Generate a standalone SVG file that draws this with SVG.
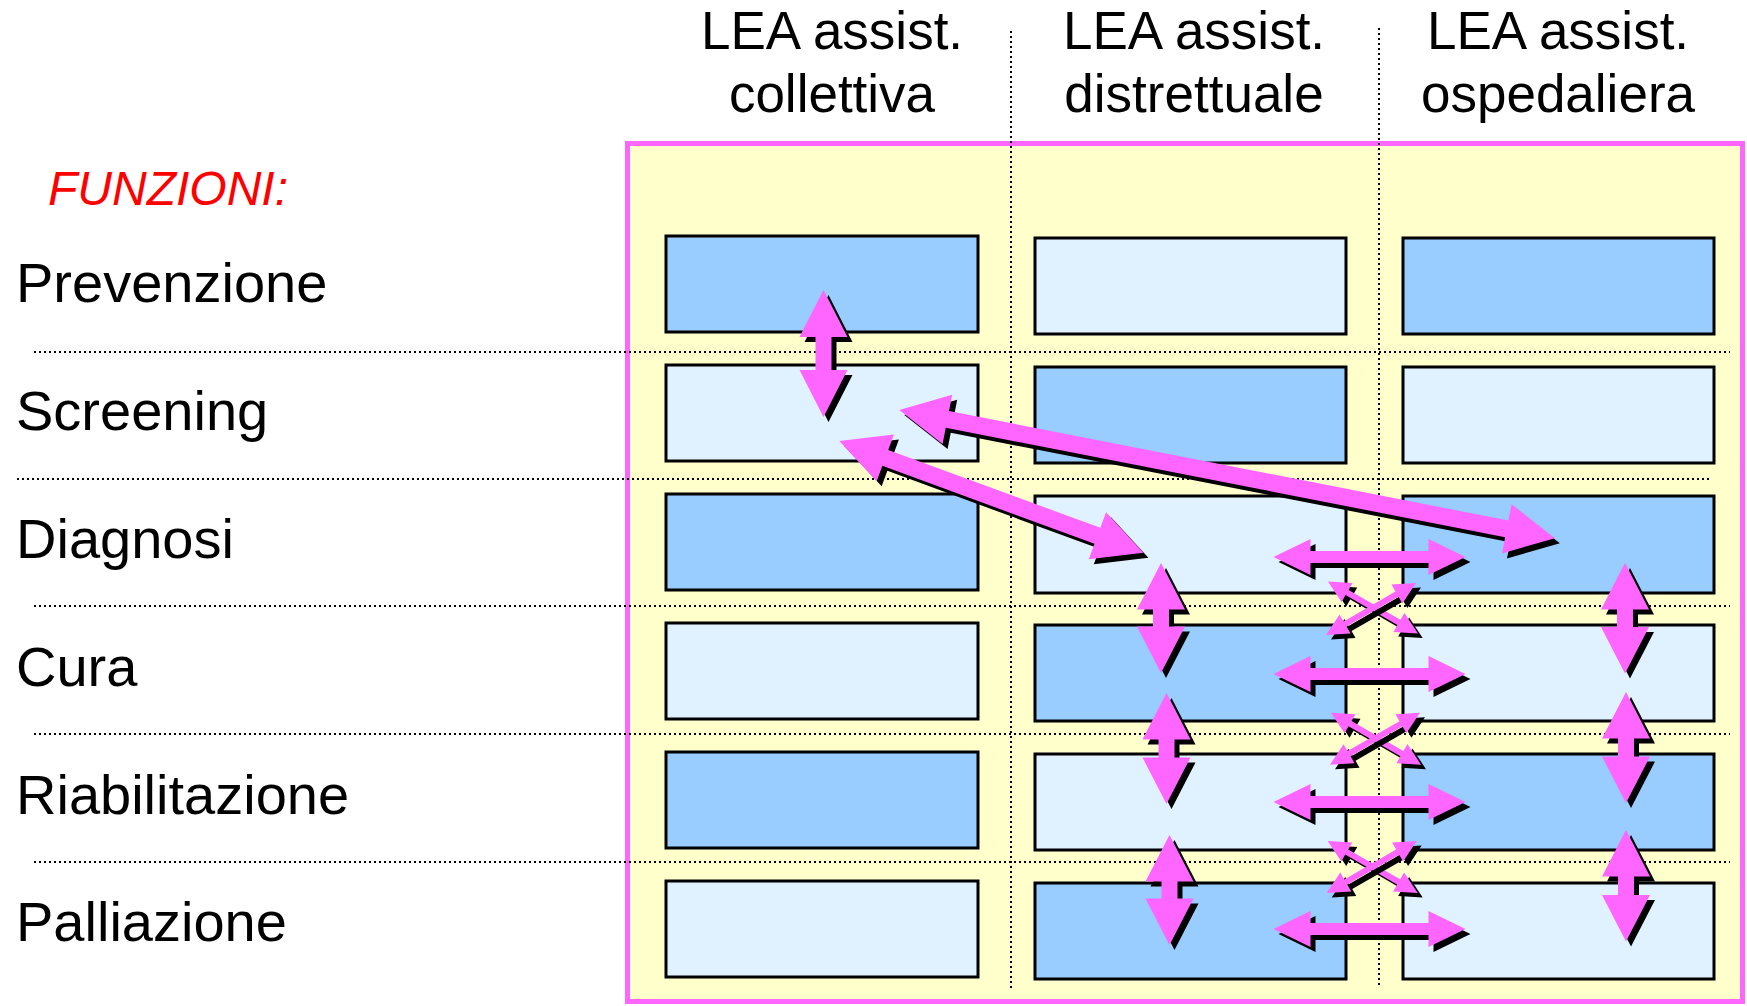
<svg xmlns="http://www.w3.org/2000/svg" xmlns:xlink="http://www.w3.org/1999/xlink" width="1747" height="1006" viewBox="0 0 1747 1006">
<style>
.hdr{font-family:"Liberation Sans",Arial,sans-serif;font-size:53px;fill:#000;text-anchor:middle}
.row{font-family:"Liberation Sans",Arial,sans-serif;font-size:56px;fill:#000}
.fun{font-family:"Liberation Sans",Arial,sans-serif;font-size:48px;font-style:italic;fill:#FF0000}
.dot{stroke:#000;stroke-width:2;stroke-dasharray:2 3;fill:none}
.dk{fill:#99CCFF;stroke:#000;stroke-width:3}
.lt{fill:#E0F2FF;stroke:#000;stroke-width:3}
.ar{fill:#FF66FF}
.sh{fill:#000}
</style>
<defs>
<path id="a1" transform="translate(823.5,290) rotate(90)" d="M0,0 L47,-24 L47,-8 L80,-8 L80,-24 L127,0 L80,24 L80,8 L47,8 L47,24 Z"/>
<path id="a2" transform="translate(899.3,410) rotate(11.07)" d="M0,0 L49,-25 L49,-8.5 L619,-8.5 L619,-25 L668,0 L619,25 L619,8.5 L49,8.5 L49,25 Z"/>
<path id="a3" transform="translate(839.3,441) rotate(20.17)" d="M0,0 L49,-25 L49,-8.5 L275,-8.5 L275,-25 L324,0 L275,25 L275,8.5 L49,8.5 L49,25 Z"/>
<path id="v1" transform="translate(1161,563) rotate(90)" d="M0,0 L46.5,-24 L46.5,-8 L63.5,-8 L63.5,-24 L110,0 L63.5,24 L63.5,8 L46.5,8 L46.5,24 Z"/>
<path id="v2" transform="translate(1166.5,693) rotate(90)" d="M0,0 L46.5,-24 L46.5,-8 L64.5,-8 L64.5,-24 L111,0 L64.5,24 L64.5,8 L46.5,8 L46.5,24 Z"/>
<path id="v3" transform="translate(1169.5,835) rotate(90)" d="M0,0 L46.5,-24 L46.5,-8 L63.5,-8 L63.5,-24 L110,0 L63.5,24 L63.5,8 L46.5,8 L46.5,24 Z"/>
<path id="v4" transform="translate(1625,563) rotate(90)" d="M0,0 L46.5,-24 L46.5,-8 L64,-8 L64,-24 L110.5,0 L64,24 L64,8 L46.5,8 L46.5,24 Z"/>
<path id="v5" transform="translate(1626,692) rotate(90)" d="M0,0 L46.5,-24 L46.5,-8 L64.5,-8 L64.5,-24 L111,0 L64.5,24 L64.5,8 L46.5,8 L46.5,24 Z"/>
<path id="v6" transform="translate(1626,830) rotate(90)" d="M0,0 L46.5,-24 L46.5,-8 L65,-8 L65,-24 L111.5,0 L65,24 L65,8 L46.5,8 L46.5,24 Z"/>
<path id="hz" d="M0,0 L37,-18 L37,-6 L155,-6 L155,-18 L192,0 L155,18 L155,6 L37,6 L37,18 Z"/>
<path id="xa" d="M0,0 L22,-11 L22,-3 L81.9,-3 L81.9,-11 L103.9,0 L81.9,11 L81.9,3 L22,3 L22,11 Z"/>
</defs>

<rect x="627.5" y="143.5" width="1115" height="858" fill="#FFFFCC" stroke="#FF66FF" stroke-width="5"/>

<g id="gridlines">
<line class="dot" x1="34" y1="352" x2="1730" y2="352"/>
<line class="dot" x1="17" y1="479" x2="1711" y2="479"/>
<line class="dot" x1="34" y1="606" x2="1730" y2="606"/>
<line class="dot" x1="34" y1="734" x2="1730" y2="734"/>
<line class="dot" x1="34" y1="862" x2="1730" y2="862"/>
<line class="dot" x1="1011" y1="31" x2="1011" y2="989"/>
<line class="dot" x1="1379" y1="28" x2="1379" y2="987"/>
</g>

<g id="headers">
<text class="hdr" x="832" y="49">LEA assist.</text>
<text class="hdr" x="832" y="112">collettiva</text>
<text class="hdr" x="1194" y="49">LEA assist.</text>
<text class="hdr" x="1194" y="112">distrettuale</text>
<text class="hdr" x="1558" y="49">LEA assist.</text>
<text class="hdr" x="1558" y="112">ospedaliera</text>
</g>

<g id="labels">
<text class="fun" x="48" y="205">FUNZIONI:</text>
<text class="row" x="16" y="302">Prevenzione</text>
<text class="row" x="16" y="430">Screening</text>
<text class="row" x="16" y="558">Diagnosi</text>
<text class="row" x="16" y="686">Cura</text>
<text class="row" x="16" y="814">Riabilitazione</text>
<text class="row" x="16" y="941">Palliazione</text>
</g>

<g id="col1">
<g id="c1-prevenzione"><rect class="dk" x="666" y="236" width="312" height="96"/></g>
<g id="c1-screening"><rect class="lt" x="666" y="365" width="312" height="96"/></g>
<g id="c1-diagnosi"><rect class="dk" x="666" y="494" width="312" height="96"/></g>
<g id="c1-cura"><rect class="lt" x="666" y="623" width="312" height="96"/></g>
<g id="c1-riabilitazione"><rect class="dk" x="666" y="752" width="312" height="96"/></g>
<g id="c1-palliazione"><rect class="lt" x="666" y="881" width="312" height="96"/></g>
</g>
<g id="col2">
<g id="c2-prevenzione"><rect class="lt" x="1035" y="238" width="311" height="96"/></g>
<g id="c2-screening"><rect class="dk" x="1035" y="367" width="311" height="96"/></g>
<g id="c2-diagnosi"><rect class="lt" x="1035" y="496" width="311" height="97"/></g>
<g id="c2-cura"><rect class="dk" x="1035" y="625" width="311" height="96"/></g>
<g id="c2-riabilitazione"><rect class="lt" x="1035" y="754" width="311" height="96"/></g>
<g id="c2-palliazione"><rect class="dk" x="1035" y="883" width="311" height="96"/></g>
</g>
<g id="col3">
<g id="c3-prevenzione"><rect class="dk" x="1403" y="238" width="311" height="96"/></g>
<g id="c3-screening"><rect class="lt" x="1403" y="367" width="311" height="96"/></g>
<g id="c3-diagnosi"><rect class="dk" x="1403" y="496" width="311" height="97"/></g>
<g id="c3-cura"><rect class="lt" x="1403" y="625" width="311" height="96"/></g>
<g id="c3-riabilitazione"><rect class="dk" x="1403" y="754" width="311" height="96"/></g>
<g id="c3-palliazione"><rect class="lt" x="1403" y="883" width="311" height="96"/></g>
</g>

<g id="connectors">
<use xlink:href="#a1" class="sh" transform="translate(5,5)"/><use xlink:href="#a1" class="ar"/>
<use xlink:href="#a2" class="sh" transform="translate(5,5)"/><use xlink:href="#a2" class="ar"/>
<use xlink:href="#a3" class="sh" transform="translate(5,5)"/><use xlink:href="#a3" class="ar"/>
<use xlink:href="#v1" class="sh" transform="translate(5,5)"/><use xlink:href="#v1" class="ar"/>
<use xlink:href="#v2" class="sh" transform="translate(5,5)"/><use xlink:href="#v2" class="ar"/>
<use xlink:href="#v3" class="sh" transform="translate(5,5)"/><use xlink:href="#v3" class="ar"/>
<use xlink:href="#v4" class="sh" transform="translate(5,5)"/><use xlink:href="#v4" class="ar"/>
<use xlink:href="#v5" class="sh" transform="translate(5,5)"/><use xlink:href="#v5" class="ar"/>
<use xlink:href="#v6" class="sh" transform="translate(5,5)"/><use xlink:href="#v6" class="ar"/>
<use xlink:href="#hz" class="sh" transform="translate(1278.5,562)"/><use xlink:href="#hz" class="ar" transform="translate(1273.5,557)"/>
<use xlink:href="#hz" class="sh" transform="translate(1278.5,679)"/><use xlink:href="#hz" class="ar" transform="translate(1273.5,674)"/>
<use xlink:href="#hz" class="sh" transform="translate(1278.5,807)"/><use xlink:href="#hz" class="ar" transform="translate(1273.5,802)"/>
<use xlink:href="#hz" class="sh" transform="translate(1278.5,934)"/><use xlink:href="#hz" class="ar" transform="translate(1273.5,929)"/>
<use xlink:href="#xa" class="sh" transform="translate(1332.7,586) rotate(30)"/><use xlink:href="#xa" class="ar" transform="translate(1328,581.5) rotate(30)"/>
<use xlink:href="#xa" class="sh" transform="translate(1331,639.5) rotate(-30)"/><use xlink:href="#xa" class="ar" transform="translate(1326,635) rotate(-30)"/>
<use xlink:href="#xa" class="sh" transform="translate(1336,717.2) rotate(30)"/><use xlink:href="#xa" class="ar" transform="translate(1331,712.7) rotate(30)"/>
<use xlink:href="#xa" class="sh" transform="translate(1335,769.2) rotate(-30)"/><use xlink:href="#xa" class="ar" transform="translate(1330,764.7) rotate(-30)"/>
<use xlink:href="#xa" class="sh" transform="translate(1332.7,845.5) rotate(30)"/><use xlink:href="#xa" class="ar" transform="translate(1327.7,841) rotate(30)"/>
<use xlink:href="#xa" class="sh" transform="translate(1331.7,897.5) rotate(-30)"/><use xlink:href="#xa" class="ar" transform="translate(1326.7,893) rotate(-30)"/>
</g>
</svg>
